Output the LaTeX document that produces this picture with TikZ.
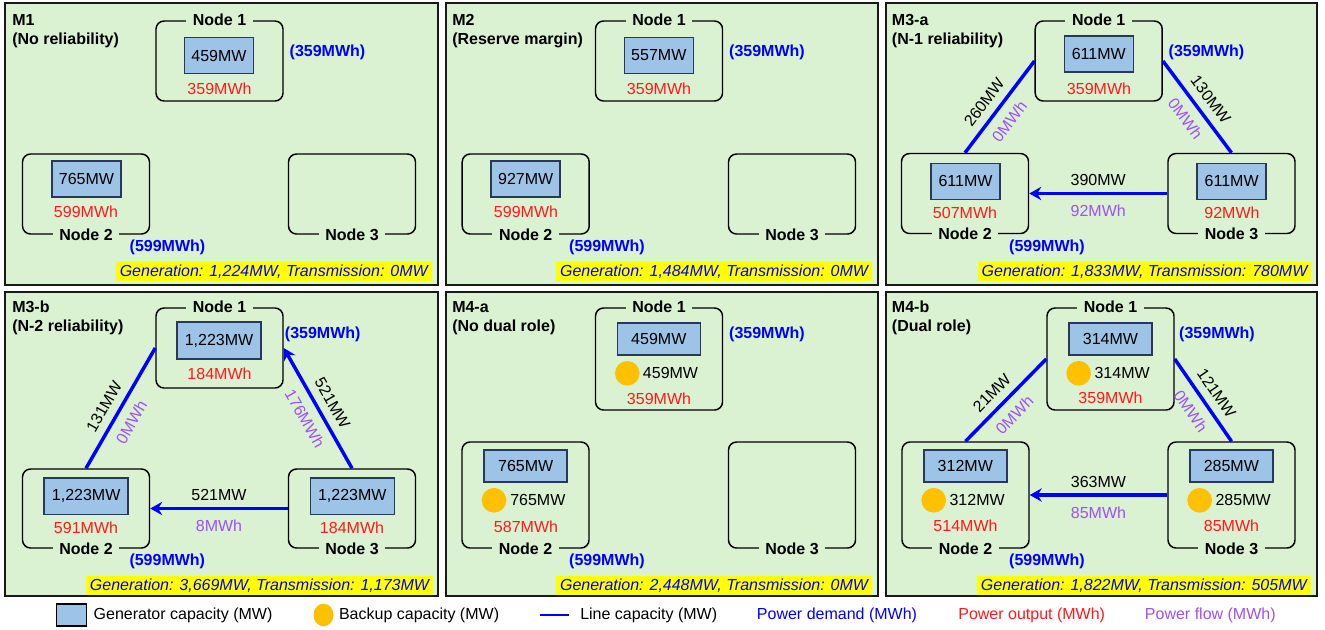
\documentclass[tikz,border=0pt]{standalone}
\usepackage{fontspec}
\setmainfont{Liberation Sans}
\usetikzlibrary{arrows.meta,shapes.geometric}
\definecolor{panelgreen}{RGB}{218,241,210}
\definecolor{genblue}{RGB}{157,195,230}
\definecolor{genborder}{RGB}{40,55,90}
\definecolor{backupc}{RGB}{255,192,0}
\definecolor{outred}{RGB}{255,25,25}
\definecolor{flowpurple}{RGB}{160,80,245}
\definecolor{demblue}{RGB}{0,0,255}
\definecolor{hiyellow}{RGB}{255,255,0}
\begin{document}
\begin{tikzpicture}[x=0.75pt,y=-0.75pt,
  font=\fontsize{12}{14}\selectfont,
  panel/.style={draw=black!90, line width=1.5pt, fill=panelgreen},
  ttl/.style={anchor=base west, inner sep=0pt, font=\fontsize{12}{14}\selectfont\bfseries},
  nodebox/.style={draw=black, line width=1.1pt, rounded corners=6pt, minimum width=95.25pt, inner sep=0pt},
  ntitle/.style={fill=panelgreen, font=\fontsize{12}{14}\selectfont\bfseries, inner xsep=5pt, inner ysep=1pt},
  genrect/.style={draw=genborder, line width=1.1pt, fill=genblue, inner sep=0pt, minimum width=51.75pt, minimum height=27pt},
  genbig/.style={genrect, minimum width=63pt, minimum height=27.5pt},
  genm4/.style={genrect, minimum width=62.25pt, minimum height=24pt},
  bkp/.style={circle, fill=backupc, minimum size=18.5pt, inner sep=0pt},
  bkptxt/.style={anchor=west, inner sep=0pt},
  outp/.style={text=outred},
  dem/.style={text=demblue, font=\fontsize{12}{14}\selectfont\bfseries},
  flow/.style={text=flowpurple},
  summary/.style={fill=hiyellow, text=demblue, font=\fontsize{12}{14}\selectfont\itshape, inner xsep=3pt, inner ysep=0pt, minimum height=14.25pt, anchor=east},
  line/.style={draw=demblue, line width=2.6pt},
  arr/.style={line, -{Stealth[length=9pt,width=10pt,inset=3pt]}},
  capa/.style={above=2.5pt},
  flowb/.style={below=3.3pt, text=flowpurple},
  leg/.style={anchor=west, inner sep=0pt, font=\fontsize{12}{14}\selectfont}
]
\useasboundingbox (0,0) rectangle (1325,629);
\fill[white] (0,0) rectangle (1325,629);

% ================= M1 =================
\draw[panel] (5,3) rectangle (437.5,284.5);
\node[ttl] (t1) at (12,25.5) {M1};
\node[ttl] (t1s) at (12,44) {(No reliability)};
\node[nodebox, minimum height=60pt] (a1) at (219.5,61) {};
\node[ntitle] (a1t) at (a1.north) {Node 1};
\node[genrect] (a1g) at (219,55.5) {459MW};
\node[outp] (a1o) at (219.5,89) {359MWh};
\node[nodebox, minimum height=60pt] (a2) at (86,194) {};
\node[ntitle] (a2t) at (a2.south) {Node 2};
\node[genrect] (a2g) at (86.5,179) {765MW};
\node[outp] (a2o) at (86,212) {599MWh};
\node[nodebox, minimum height=60pt] (a3) at (352,194) {};
\node[ntitle] (a3t) at (a3.south) {Node 3};
\node[dem] (a1d) at (327.5,52) {(359MWh)};
\node[dem] (a2d) at (167.5,247) {(599MWh)};
\node[summary] (as) at (432,271.5) {Generation: 1,224MW, Transmission: 0MW};

% ================= M2 =================
\draw[panel] (446,3) rectangle (877.5,284.5);
\node[ttl] (t2) at (452,25.5) {M2};
\node[ttl] (t2s) at (452,44) {(Reserve margin)};
\node[nodebox, minimum height=60pt] (b1) at (659,61) {};
\node[ntitle] (b1t) at (b1.north) {Node 1};
\node[genrect] (b1g) at (658.8,55.5) {557MW};
\node[outp] (b1o) at (659,89) {359MWh};
\node[nodebox, minimum height=60pt] (b2) at (525.7,194) {};
\node[ntitle] (b2t) at (b2.south) {Node 2};
\node[genrect] (b2g) at (525.7,179) {927MW};
\node[outp] (b2o) at (526,212) {599MWh};
\node[nodebox, minimum height=60pt] (b3) at (792,194) {};
\node[ntitle] (b3t) at (b3.south) {Node 3};
\node[dem] (b1d) at (767,52) {(359MWh)};
\node[dem] (b2d) at (607,247) {(599MWh)};
\node[summary] (bs) at (872.3,271.5) {Generation: 1,484MW, Transmission: 0MW};

% ================= M3-a =================
\draw[panel] (886,3) rectangle (1317,284.5);
\node[ttl] (t3) at (891.7,25.5) {M3-a};
\node[ttl] (t3s) at (891.7,44) {(N-1 reliability)};
\node[nodebox, minimum height=60pt] (c1) at (1098.7,61) {};
\node[ntitle] (c1t) at (c1.north) {Node 1};
\node[genrect] (c1g) at (1098.8,54) {611MW};
\node[outp] (c1o) at (1099,88.5) {359MWh};
\node[nodebox, minimum height=60pt] (c2) at (965,193.5) {};
\node[ntitle] (c2t) at (c2.south) {Node 2};
\node[genrect] (c2g) at (965.5,181.3) {611MW};
\node[outp] (c2o) at (965,213) {507MWh};
\node[nodebox, minimum height=60pt] (c3) at (1231.5,193.5) {};
\node[ntitle] (c3t) at (c3.south) {Node 3};
\node[genrect] (c3g) at (1231.7,181.3) {611MW};
\node[outp] (c3o) at (1232,213) {92MWh};
\node[dem] (c1d) at (1206.5,52) {(359MWh)};
\node[dem] (c2d) at (1047,247) {(599MWh)};
\node[summary] (cs) at (1311.7,271.5) {Generation: 1,833MW, Transmission: 780MW};
\draw[line] (c2.north) -- (c1.west)
  node[pos=.45, sloped, capa] (c21a) {260MW}
  node[pos=.45, sloped, flowb] (c21b) {0MWh};
\draw[line] (c1.east) -- (c3.north)
  node[pos=.52, sloped, capa] (c13a) {130MW}
  node[pos=.52, sloped, flowb] (c13b) {0MWh};
\draw[arr] (c3.west) -- (c2.east)
  node[midway, above=1pt] (c32a) {390MW}
  node[midway, below=4pt, flow] (c32b) {92MWh};

% ================= M3-b =================
\draw[panel] (5,292) rectangle (437.5,596);
\node[ttl] (t4) at (12,312.4) {M3-b};
\node[ttl] (t4s) at (12,331) {(N-2 reliability)};
\node[nodebox, minimum height=60pt] (d1) at (219.5,348) {};
\node[ntitle] (d1t) at (d1.north) {Node 1};
\node[genbig] (d1g) at (219,340.5) {1,223MW};
\node[outp] (d1o) at (219.5,373.3) {184MWh};
\node[nodebox, minimum height=59.25pt] (d2) at (86,508.5) {};
\node[ntitle] (d2t) at (d2.south) {Node 2};
\node[genbig] (d2g) at (86.2,496.3) {1,223MW};
\node[outp] (d2o) at (86,527.3) {591MWh};
\node[nodebox, minimum height=59.25pt] (d3) at (352,508.5) {};
\node[ntitle] (d3t) at (d3.south) {Node 3};
\node[genbig] (d3g) at (352.3,496.3) {1,223MW};
\node[outp] (d3o) at (352,527.3) {184MWh};
\node[dem] (d1d) at (322.7,334) {(359MWh)};
\node[dem] (d2d) at (167.3,561.7) {(599MWh)};
\node[summary] (ds) at (433.3,585.3) {Generation: 3,669MW, Transmission: 1,173MW};
\draw[line] (d2.north) -- (d1.west)
  node[pos=.45, sloped, capa] (d21a) {131MW}
  node[pos=.45, sloped, flowb] (d21b) {0MWh};
\draw[line, {Stealth[length=9pt,width=10pt,inset=3pt]}-] (d1.east) -- (d3.north)
  node[pos=.52, sloped, capa] (d13a) {521MW}
  node[pos=.52, sloped, flowb] (d13b) {176MWh};
\draw[arr] (d3.west) -- (d2.east)
  node[midway, above=1pt] (d32a) {521MW}
  node[midway, below=4pt, flow] (d32b) {8MWh};

% ================= M4-a =================
\draw[panel] (446,292) rectangle (877.5,596);
\node[ttl] (t5) at (452,312.4) {M4-a};
\node[ttl] (t5s) at (452,331) {(No dual role)};
\node[nodebox, minimum height=76.5pt] (e1) at (659,359) {};
\node[ntitle] (e1t) at (e1.north) {Node 1};
\node[genm4] (e1g) at (658.8,339.2) {459MW};
\node[bkp] (e1b) at (627.3,373.3) {};
\node[bkptxt] (e1c) at (642.7,373.3) {459MW};
\node[outp] (e1o) at (659,398.3) {359MWh};
\node[nodebox, minimum height=79.5pt] (e2) at (525.5,495) {};
\node[ntitle] (e2t) at (e2.south) {Node 2};
\node[genm4] (e2g) at (525.7,466.2) {765MW};
\node[bkp] (e2b) at (494,500.3) {};
\node[bkptxt] (e2c) at (510,500.3) {765MW};
\node[outp] (e2o) at (526,526.7) {587MWh};
\node[nodebox, minimum height=79.5pt] (e3) at (792,495) {};
\node[ntitle] (e3t) at (e3.south) {Node 3};
\node[dem] (e1d) at (767,334) {(359MWh)};
\node[dem] (e2d) at (607,561.7) {(599MWh)};
\node[summary] (es) at (872.3,585.3) {Generation: 2,448MW, Transmission: 0MW};

% ================= M4-b =================
\draw[panel] (886,292) rectangle (1317,596);
\node[ttl] (t6) at (891.7,312.4) {M4-b};
\node[ttl] (t6s) at (891.7,331) {(Dual role)};
\node[nodebox, minimum height=76.5pt] (f1) at (1110.5,359) {};
\node[ntitle] (f1t) at (f1.north) {Node 1};
\node[genm4] (f1g) at (1110.5,339) {314MW};
\node[bkp] (f1b) at (1078.7,373.3) {};
\node[bkptxt] (f1c) at (1094.3,373.3) {314MW};
\node[outp] (f1o) at (1110.5,397.3) {359MWh};
\node[nodebox, minimum height=79.5pt] (f2) at (965.5,495) {};
\node[ntitle] (f2t) at (f2.south) {Node 2};
\node[genm4] (f2g) at (965.3,466.2) {312MW};
\node[bkp] (f2b) at (933.7,500.3) {};
\node[bkptxt] (f2c) at (949.3,500.3) {312MW};
\node[outp] (f2o) at (965.5,525.7) {514MWh};
\node[nodebox, minimum height=79.5pt] (f3) at (1231.5,495) {};
\node[ntitle] (f3t) at (f3.south) {Node 3};
\node[genm4] (f3g) at (1231.3,466.2) {285MW};
\node[bkp] (f3b) at (1199.7,500.3) {};
\node[bkptxt] (f3c) at (1215.3,500.3) {285MW};
\node[outp] (f3o) at (1231.5,525.7) {85MWh};
\node[dem] (f1d) at (1217,334) {(359MWh)};
\node[dem] (f2d) at (1047,561.7) {(599MWh)};
\node[summary] (fs) at (1311,585.3) {Generation: 1,822MW, Transmission: 505MW};
\draw[line] (f2.north) -- (f1.west)
  node[pos=.46, sloped, capa] (f21a) {21MW}
  node[pos=.46, sloped, flowb] (f21b) {0MWh};
\draw[line] (f1.east) -- (f3.north)
  node[pos=.52, sloped, capa] (f13a) {121MW}
  node[pos=.52, sloped, flowb] (f13b) {0MWh};
\draw[arr] (f3.west) -- (f2.east)
  node[midway, above=1pt] (f32a) {363MW}
  node[midway, below=4pt, flow] (f32b) {85MWh};

% ================= Legend =================
\node[draw=black, line width=1.4pt, fill=genblue, minimum width=22.5pt, minimum height=16.5pt, inner sep=0pt] (lgg) at (71.5,615) {};
\node[leg] (lggt) at (93.4,615) {Generator capacity (MW)};
\node[ellipse, fill=backupc, minimum width=15pt, minimum height=17pt, inner sep=0pt] (lgb) at (323.5,615) {};
\node[leg] (lgbt) at (338.8,615) {Backup capacity (MW)};
\coordinate (lgl1) at (540,615);
\coordinate (lgl2) at (569,615);
\draw[demblue, line width=2pt] (lgl1) -- (lgl2);
\node[leg] (lglt) at (580,615) {Line capacity (MW)};
\node[leg, text=demblue] (lgd) at (756.7,615) {Power demand (MWh)};
\node[leg, text=outred] (lgo) at (958.1,615) {Power output (MWh)};
\node[leg, text=flowpurple] (lgf) at (1144.7,615) {Power flow (MWh)};
\end{tikzpicture}
\end{document}
